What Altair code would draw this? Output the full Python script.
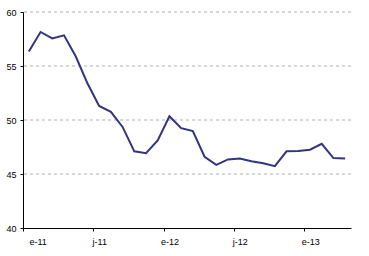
import altair as alt
import pandas as pd

values = [56.35, 58.15, 57.56, 57.84, 55.9, 53.4, 51.3, 50.75, 49.36, 47.1,
          46.93, 48.1, 50.35, 49.24, 48.98, 46.6, 45.85, 46.35, 46.44, 46.19,
          46.0, 45.72, 47.1, 47.12, 47.25, 47.8, 46.47, 46.44]
tick_labels = ["e-11", "j-11", "e-12", "j-12", "e-13"]
grid_values = [45, 50, 55, 60]

df = pd.DataFrame({"i": list(range(len(values))), "v": values})

label_arr = "[" + ",".join("'%s'" % t for t in tick_labels) + "]"
label_expr = label_arr + "[floor((datum.value + 0.5) / 6)]"

x = alt.X(
    "i:Q",
    scale=alt.Scale(domain=[-0.5, len(values) - 0.5], nice=False, zero=False),
    axis=alt.Axis(
        values=[-0.5, 5.5, 11.5, 17.5, 23.5],
        labelExpr=label_expr,
        labelOffset=6,
        title=None,
        grid=False,
        domainColor="black",
        domainWidth=1,
        tickColor="black",
        tickSize=3,
        labelPadding=6,
        labelFont="Liberation Sans",
        labelFontSize=9,
        labelColor="black",
    ),
)

y_axis = alt.Axis(
    values=[40, 45, 50, 55, 60],
    title=None,
    grid=False,
    domainColor="black",
    domainWidth=1,
    tickColor="black",
    tickSize=3,
    labelPadding=4,
    labelFont="Liberation Sans",
    labelFontSize=9,
    labelColor="black",
)
y_scale = alt.Scale(domain=[40, 60], nice=False, zero=False)

grid_df = pd.DataFrame({"g": grid_values})
grid = alt.Chart(grid_df).mark_rule(color="#b0b0b0", strokeDash=[3, 3], strokeWidth=1).encode(
    y=alt.Y("g:Q", scale=y_scale, axis=y_axis),
)

line = alt.Chart(df).mark_line(color="#333380", strokeWidth=2).encode(
    x=x, y=alt.Y("v:Q", scale=y_scale, axis=y_axis)
)

chart = alt.layer(grid, line).properties(
    width=328,
    height=216,
    padding={"left": 23, "top": 12, "right": 18, "bottom": 28},
    autosize=alt.AutoSizeParams(type="none"),
    background="white",
).configure_view(stroke=None)

chart.save("out.html", embed_options={"renderer": "svg", "actions": False})
